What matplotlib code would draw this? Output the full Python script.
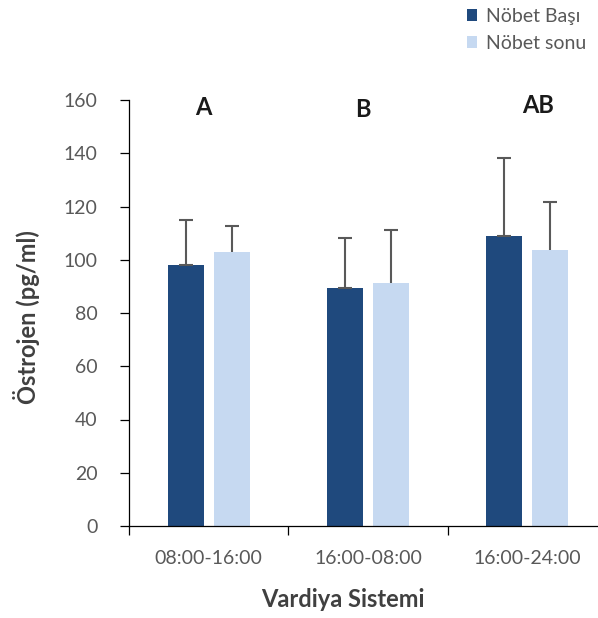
import matplotlib.pyplot as plt
from matplotlib.ticker import FixedLocator
import numpy as np

# data
shifts = ['08:00-16:00', '16:00-08:00', '16:00-24:00']
start_mean = [98, 89.5, 109]
start_err = [17, 18.7, 29.2]
end_mean = [103, 91.1, 103.8]
end_err = [9.7, 20.1, 17.9]
group_letters = ['A', 'B', 'AB']
series_names = ['Nöbet Başı', 'Nöbet sonu']

dark = '#1f497d'
light = '#c6d9f1'
grey = '#595959'

plt.rcParams['font.family'] = ['Lato', 'DejaVu Sans']

fig = plt.figure(figsize=(5.98, 6.18), dpi=100)
ax = fig.add_axes([129/598, 1-526/618, 478/598, 426/618])

x = np.arange(len(shifts))
w = 0.225
off = 0.144

b1 = ax.bar(x - off, start_mean, w, color=dark, zorder=2, label=series_names[0])
b2 = ax.bar(x + off, end_mean, w, color=light, zorder=2, label=series_names[1])

ax.errorbar(x - off, start_mean, yerr=[np.zeros(3), start_err], fmt='none',
            ecolor=grey, elinewidth=1.5, capsize=5, capthick=1.5, zorder=3)
eb = ax.errorbar(x + off, end_mean, yerr=[np.zeros(3), end_err], fmt='none',
                 ecolor=grey, elinewidth=1.5, capsize=5, capthick=1.5, zorder=3)
eb[1][0].set_visible(False)

letter_x = [-0.035, 0.97, 2.07]
letter_y = [157, 156.5, 158]
for lx, ly, t in zip(letter_x, letter_y, group_letters):
    ax.text(lx, ly, t, ha='center', va='center', fontsize=17, fontweight='bold', color='#1a1a1a')

ax.set_xlim(-0.5, 2.5)
ax.set_ylim(0, 160)
ax.set_yticks(range(0, 161, 20))
ax.set_xticks(x)
ax.set_xticklabels(shifts)
ax.xaxis.set_minor_locator(FixedLocator([-0.5, 0.5, 1.5, 2.5]))
ax.tick_params(axis='x', which='major', length=0, pad=17, labelsize=14, labelcolor=grey)
ax.tick_params(axis='x', which='minor', length=6.5, width=0.9, direction='out')
ax.tick_params(axis='y', length=6.5, width=0.9, pad=16, labelsize=14, labelcolor=grey)

for s in ['top', 'right']:
    ax.spines[s].set_visible(False)
for s in ['left', 'bottom']:
    ax.spines[s].set_linewidth(0.9)

ax.set_ylabel('Östrojen (pg/ml)', fontsize=17, fontweight='bold', color='#404040')
ax.yaxis.set_label_coords(-0.186, 0.49)
ax.set_xlabel('Vardiya Sistemi', fontsize=17, fontweight='bold', color='#404040')
ax.xaxis.set_label_coords(0.448, -0.146)

fig.legend(handles=[b1, b2], labels=series_names, loc='upper left',
           bbox_to_anchor=(455/598, 1.006), frameon=False, fontsize=14,
           handlelength=0.55, handleheight=0.55, handletextpad=0.45,
           labelspacing=0.5, labelcolor=grey, borderaxespad=0.2)

fig.savefig('out.png', dpi=100)
